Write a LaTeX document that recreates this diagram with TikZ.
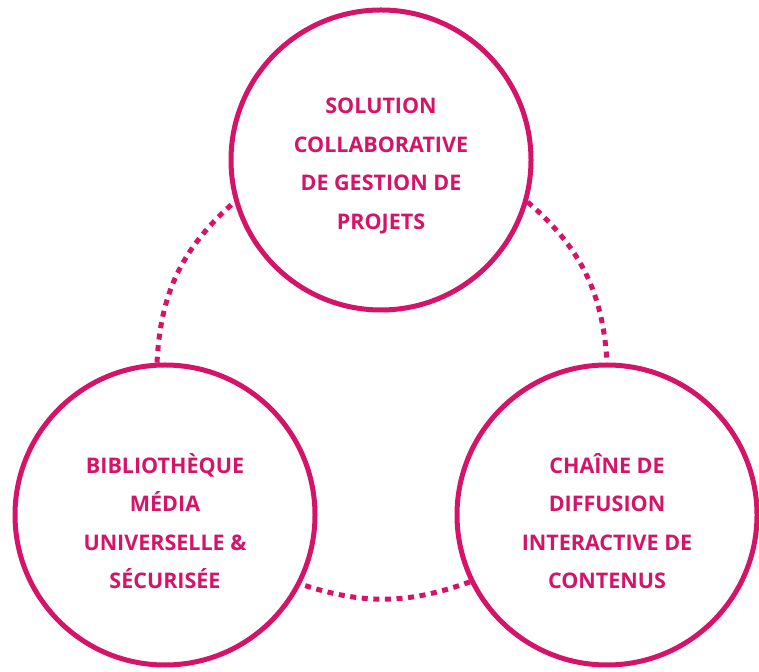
\documentclass[tikz,border=0pt]{standalone}
\usepackage{fontspec}
\setmainfont{Open Sans}
\definecolor{rose}{RGB}{213,19,104}
\begin{document}
\begin{tikzpicture}[x=1pt,y=1pt,
    ring/.style={circle,draw=rose,line width=5pt,minimum size=300pt,inner sep=0pt},
    caption/.style={text=rose,align=center,inner sep=0pt,font=\fontsize{21.5}{38.5}\selectfont\bfseries},
    dots/.style={draw=rose,line width=5pt,dash pattern=on 6pt off 5.6pt}]
    \useasboundingbox (0,0) rectangle (759,671);
    \node[ring] (projets) at (381,511) {};
    \node[ring] (media) at (165,156) {};
    \node[ring] (diffusion) at (607,156) {};
    \node[caption] (projetsT) at ([yshift=-6]projets.center) {SOLUTION\\COLLABORATIVE\\DE GESTION DE\\PROJETS};
    \node[caption] (mediaT) at ([yshift=-6]media.center) {BIBLIOTHÈQUE\\MÉDIA\\UNIVERSELLE \&\\SÉCURISÉE};
    \node[caption] (diffusionT) at ([yshift=-6]diffusion.center) {CHAÎNE DE\\DIFFUSION\\INTERACTIVE DE\\CONTENUS};
    \draw[dots] (media.93) to[bend left=23] (projets.196);
    \draw[dots] (projets.344) to[bend left=23] (diffusion.90);
    \draw[dots] (diffusion.206) to[bend left=19] (media.333);
\end{tikzpicture}
\end{document}
